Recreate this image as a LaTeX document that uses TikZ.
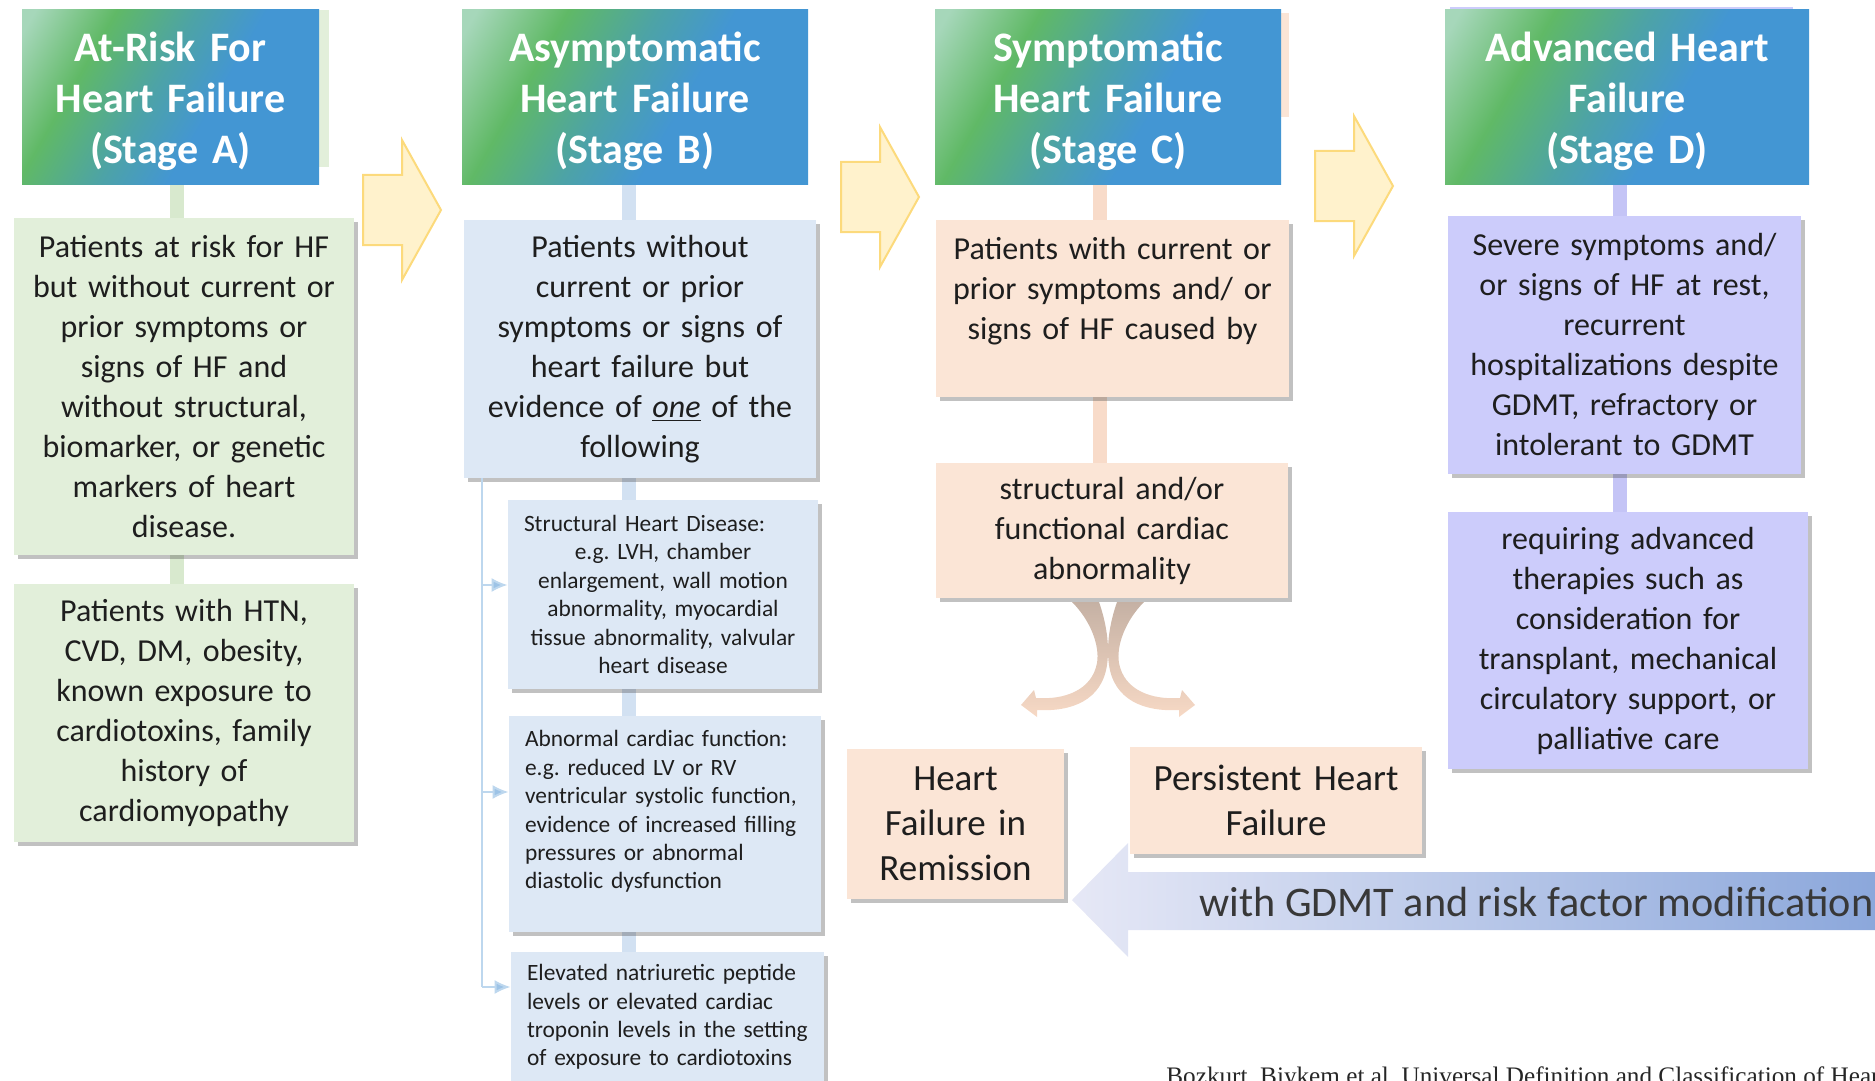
\documentclass[tikz,border=0pt]{standalone}
\usepackage{fontspec}
\setmainfont{Carlito}
\newfontfamily\citefont{Liberation Serif}
\usetikzlibrary{arrows.meta,shadows,backgrounds,positioning}

\definecolor{riskgreen}{HTML}{E2EFDA}
\definecolor{riskstem}{HTML}{D8E9CE}
\definecolor{asymblue}{HTML}{DDE8F5}
\definecolor{asymstem}{HTML}{D2E1F2}
\definecolor{sympeach}{HTML}{FBE5D6}
\definecolor{symstem}{HTML}{F8DBC9}
\definecolor{advlav}{HTML}{CCCCFB}
\definecolor{advstem}{HTML}{C4C4F6}
\definecolor{hdpale}{HTML}{A6D7BA}
\definecolor{hdgreen}{HTML}{60B966}
\definecolor{hdteal}{HTML}{4DA3A6}
\definecolor{hdblue}{HTML}{4396D3}
\definecolor{arrowfill}{HTML}{FFF2CC}
\definecolor{arrowline}{HTML}{FCDA7C}
\definecolor{brkblue}{HTML}{BDD7EE}
\definecolor{brktip}{HTML}{9DC3E6}
\definecolor{splittop}{HTML}{C5B1A4}
\definecolor{splitbot}{HTML}{F7D9C5}
\definecolor{gdmtleft}{HTML}{E6E8F6}
\definecolor{gdmtright}{HTML}{8BA7DB}
\definecolor{inktext}{HTML}{1E1E1E}

\pgfdeclarehorizontalshading{stagehead}{100bp}{color(0bp)=(hdpale); color(18bp)=(hdpale); color(32bp)=(hdgreen); color(46bp)=(hdteal); color(58bp)=(hdblue); color(100bp)=(hdblue)}

\newcommand{\hdrstrut}{\rule{0pt}{18.7pt}}

\tikzset{
  stagehdr/.style={shade, shading=stagehead, shading angle=-30, inner sep=0, align=center,
    text=white, font=\bfseries\fontsize{21}{25.5}\selectfont, minimum height=87.5pt},
  card/.style={inner sep=0, align=center, text=inktext, font=\fontsize{16}{20}\selectfont,
    drop shadow={shadow xshift=2pt, shadow yshift=-2pt, opacity=0.35, fill=black!70}},
  smallcard/.style={card, font=\fontsize{11.7}{14.2}\selectfont, inner xsep=8pt},
  bigcard/.style={card, font=\fontsize{18.5}{22.5}\selectfont},
  stem/.style={line width=7pt},
  stagearrow/.style={fill=arrowfill, draw=arrowline, line width=1pt, line join=miter},
  brkline/.style={draw=brkblue, line width=1pt},
  brkarrow/.style={brkline, -{Latex[length=8pt,width=7pt,fill=brktip]}}
}

\begin{document}
\frenchspacing
\begin{tikzpicture}[x=0.5pt,y=-0.5pt]
\useasboundingbox (0,0) rectangle (1875,1081);
\clip (0,0) rectangle (1875,1081);

% stage headings
\node[stagehdr, text width=148.5pt] (hdrA) at (170.5,97.5) {\hdrstrut At-Risk For\\Heart Failure\\(Stage A)};
\node[stagehdr, text width=173pt] (hdrB) at (635,97.5) {\hdrstrut Asymptomatic\\Heart Failure\\(Stage B)};
\node[stagehdr, text width=173pt] (hdrC) at (1108,97.5) {\hdrstrut Symptomatic\\Heart Failure\\(Stage C)};
\node[stagehdr, text width=182pt] (hdrD) at (1627,97.5) {\hdrstrut Advanced Heart\\Failure\\(Stage D)};

\foreach \ax/\ay in {363/210, 841/197, 1315/186}
  \draw[stagearrow] (\ax,\ay-35) -- (\ax+39,\ay-35) -- (\ax+39,\ay-70) -- (\ax+78,\ay)
    -- (\ax+39,\ay+70) -- (\ax+39,\ay+35) -- (\ax,\ay+35) -- cycle;

% stage A
\node[card, fill=riskgreen, text width=170pt, minimum height=168.5pt] (A1) at (184,386.5)
  {Patients at risk for HF\\but without current or\\prior symptoms or\\signs of HF and\\without structural,\\biomarker, or genetic\\markers of heart\\disease.};
\node[card, fill=riskgreen, text width=170pt, minimum height=129pt] (A2) at (184,713)
  {Patients with HTN,\\CVD, DM, obesity,\\known exposure to\\cardiotoxins, family\\history of\\cardiomyopathy};

% stage B
\node[card, fill=asymblue, text width=176pt, minimum height=129pt] (B1) at (640,349)
  {Patients without\\current or prior\\symptoms or signs of\\heart failure but\\evidence of \underline{\textit{one}} of the\\following};
\node[smallcard, fill=asymblue, text width=139pt, minimum height=94.5pt] (B2) at (663,594.5)
  {Structural Heart Disease:\hfill\null\\e.g. LVH, chamber\\enlargement, wall motion\\abnormality, myocardial\\tissue abnormality, valvular\\heart disease};
\node[smallcard, align=left, fill=asymblue, text width=140pt, minimum height=108pt] (B3) at (665,824)
  {Abnormal cardiac function:\\e.g. reduced LV or RV\\ventricular systolic function,\\evidence of increased filling\\pressures or abnormal\\diastolic dysfunction\\\mbox{}};
\node[smallcard, align=left, fill=asymblue, text width=140.5pt, minimum height=65pt] (B4) at (667.5,1017)
  {Elevated natriuretic peptide\\levels or elevated cardiac\\troponin levels in the setting\\of exposure to cardiotoxins};

% stage C
\node[card, fill=sympeach, text width=176.5pt, minimum height=88.5pt] (C1) at (1112.5,308.5)
  {Patients with current or\\prior symptoms and/ or\\signs of HF caused by\\\mbox{}};
\node[card, fill=sympeach, text width=176pt, minimum height=67.5pt] (C2) at (1112,530.5)
  {structural and/or\\functional cardiac\\abnormality};
\node[bigcard, fill=sympeach, text width=108.5pt, minimum height=75pt] (C3) at (955.5,824)
  {Heart\\Failure in\\Remission};
\node[bigcard, fill=sympeach, text width=146pt, minimum height=53.5pt] (C4) at (1276,800.5)
  {Persistent Heart\\Failure};

% stage D
\node[card, fill=advlav, text width=176.5pt, minimum height=129pt] (D1) at (1624.5,345)
  {Severe symptoms and/\\or signs of HF at rest,\\recurrent\\hospitalizations despite\\GDMT, refractory or\\intolerant to GDMT};
\node[card, fill=advlav, text width=180pt, minimum height=128.5pt] (D2) at (1628,640.5)
  {requiring advanced\\therapies such as\\consideration for\\transplant, mechanical\\circulatory support, or\\palliative care};

\begin{pgfonlayer}{background}
  \fill[riskgreen] (300,10) rectangle (329,167);
  \fill[sympeach] (1260,13) rectangle (1289,117);
  \fill[advlav] (1450,7) rectangle (1793,20);
  \draw[stem, draw=riskstem] ([xshift=3pt]hdrA.south) -- ([xshift=3pt]hdrA.south |- A2.north);
  \draw[stem, draw=asymstem] ([xshift=-3pt]hdrB.south) -- ([xshift=-3pt]hdrB.south |- B4.north);
  \draw[stem, draw=symstem] ([xshift=-4pt]hdrC.south) -- ([xshift=-4pt]hdrC.south |- C2.north);
  \draw[stem, draw=advstem] ([xshift=-3.5pt]hdrD.south) -- ([xshift=-3.5pt]hdrD.south |- D2.north);
  % split into remission / persistent
  \shade[top color=splittop, bottom color=splitbot] (1072,602) .. controls (1090,620) and (1100,645) .. (1097,663)
    .. controls (1092,690) and (1065,700) .. (1036,698) -- (1034,690) -- (1021,705) -- (1037,717) -- (1037,710)
    .. controls (1072,712) and (1102,700) .. (1107,665) .. controls (1110,645) and (1106,622) .. (1099,602) -- cycle;
  \shade[top color=splittop, bottom color=splitbot] (1144,602) .. controls (1126,620) and (1116,645) .. (1119,663)
    .. controls (1124,690) and (1151,700) .. (1180,698) -- (1182,690) -- (1195,705) -- (1179,717) -- (1179,710)
    .. controls (1144,712) and (1114,700) .. (1109,665) .. controls (1106,645) and (1110,622) .. (1117,602) -- cycle;
\end{pgfonlayer}

\coordinate (brk) at (482,478);
\foreach \bx/\dy in {B2/4.75, B3/16, B4/15}
  \coordinate (in\bx) at ([yshift=\dy pt]\bx.west);
\draw[brkline] (brk) -- (inB4 -| brk);
\foreach \bx in {B2,B3,B4}
  \draw[brkarrow] (in\bx -| brk) -- (in\bx);

\shade[left color=gdmtleft, right color=gdmtright] (1072,900) -- (1128,843) -- (1128,872) -- (1880,872)
  -- (1880,930) -- (1128,930) -- (1128,957) -- cycle;
\node[anchor=west, inner sep=0, text=black!78, font=\fontsize{21.1}{25}\selectfont] (gdmt) at (1199,902)
  {with GDMT and risk factor modification};

\node[anchor=base west, inner sep=0, text=black!85, font=\citefont\fontsize{12.6}{15}\selectfont] (cite) at (1166,1084)
  {Bozkurt, Biykem et al. Universal Definition and Classification of Heart Failure};
\end{tikzpicture}
\end{document}
